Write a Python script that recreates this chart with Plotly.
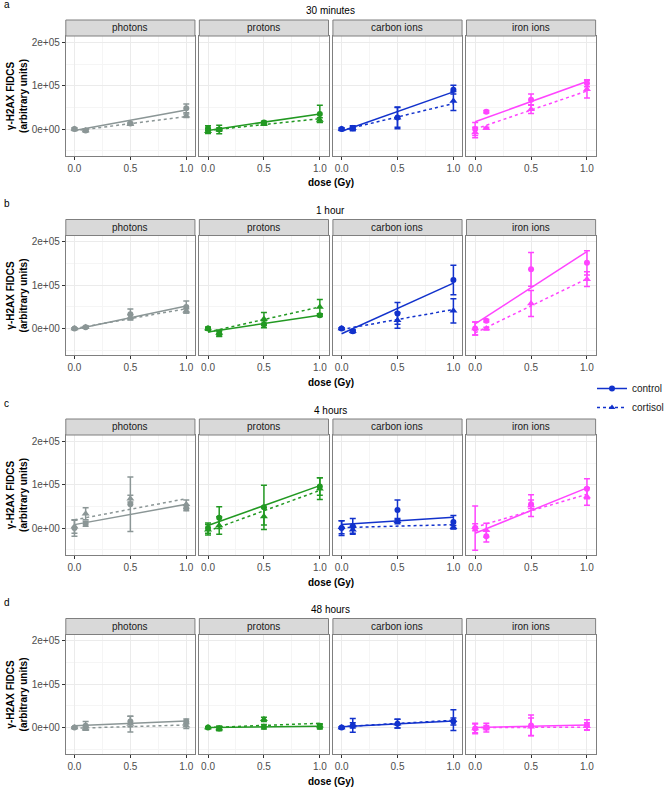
import plotly.graph_objects as go

# ---------------- data (values in units of 1e3, arbitrary units) ----------------
times = ["30 minutes", "1 hour", "4 hours", "48 hours"]
panel_tags = ["a", "b", "c", "d"]
radiations = ["photons", "protons", "carbon ions", "iron ions"]
doses = [0.0, 0.1, 0.5, 1.0]
groups = ["control", "cortisol"]
rad_colors = ["#8B9696", "#229922", "#1232CC", "#FF44FF"]
y_tickvals = [0, 100000, 200000]
y_ticktext = ["0e+00", "1e+05", "2e+05"]
x_tickvals = [0, 0.5, 1.0]
x_ticktext = ["0.0", "0.5", "1.0"]

# per time point: list over radiations of 4 dose values
control_30min = [[0, -3, 13, 48], [2, -1, 15, 35], [0, 2, 27, 91], [0, 40, 68, 106]]
control_30min_err = [[3, 4, 2, 10], [6, 4, 3, 20], [3, 6, 23, 10], [15, 3, 13, 8]]
cortisol_30min = [[0, -3, 11, 31], [-5, -1, 12, 21], [0, 2, 26, 65], [-8, 2, 46, 92]]
cortisol_30min_err = [[2, 2, 2, 4], [5, 10, 3, 5], [2, 4, 25, 22], [12, 2, 10, 20]]

control_1h = [[0, 3, 33, 50], [0, -12, 10, 31], [0, -6, 35, 112], [0, 18, 137, 152]]
control_1h_err = [[2, 2, 12, 14], [3, 6, 8, 3], [2, 3, 25, 34], [15, 3, 39, 28]]
cortisol_1h = [[0, 3, 26, 41], [0, -10, 22, 50], [0, -6, 19, 41], [0, 0, 58, 114]]
cortisol_1h_err = [[2, 2, 6, 5], [3, 7, 15, 17], [2, 3, 18, 28], [15, 3, 30, 17]]

control_4h = [[0, 10, 55, 46], [0, 24, 48, 96], [0, 4, 42, 14], [0, -19, 55, 91]]
control_4h_err = [[19, 6, 63, 6], [12, 25, 51, 20], [17, 18, 23, 15], [51, 13, 10, 23]]
cortisol_4h = [[3, 33, 68, 55], [-4, 6, 27, 91], [2, -4, 16, 2], [2, -5, 52, 73]]
cortisol_4h_err = [[15, 14, 8, 10], [12, 20, 20, 25], [15, 8, 6, 4], [8, 16, 25, 20]]

control_48h = [[0, 4, 14, 14], [0, -2, 2, 2], [0, 5, 9, 14], [-2, 0, 5, 6]]
control_48h_err = [[2, 10, 12, 6], [2, 5, 5, 5], [2, 6, 10, 8], [12, 10, 24, 12]]
cortisol_48h = [[0, -2, 8, 4], [0, -2, 19, 4], [0, 5, 9, 17], [-2, 0, 2, 3]]
cortisol_48h_err = [[2, 4, 18, 6], [2, 5, 5, 5], [2, 16, 10, 24], [10, 5, 20, 8]]

# linear fit lines (intercept, slope) per radiation
control_fit_30min = [(-3, 47), (-3, 38), (-5, 91), (17, 93)]
cortisol_fit_30min = [(-4, 33), (-3, 27), (-3, 62), (0, 88)]
control_fit_1h = [(-2, 54), (-8, 39), (-12, 117), (11, 167)]
cortisol_fit_1h = [(0, 46), (-8, 58), (-2, 46), (-10, 125)]
control_fit_4h = [(8, 47), (6, 92), (8, 17), (-12, 105)]
cortisol_fit_4h = [(19, 49), (-7, 94), (1, 7), (2, 76)]
control_fit_48h = [(4, 11), (0, 3), (2, 13), (0, 6)]
cortisol_fit_48h = [(-1.5, 7.5), (0, 10), (2, 15), (0, 1)]

control_means = [control_30min, control_1h, control_4h, control_48h]
control_errs = [control_30min_err, control_1h_err, control_4h_err, control_48h_err]
cortisol_means = [cortisol_30min, cortisol_1h, cortisol_4h, cortisol_48h]
cortisol_errs = [cortisol_30min_err, cortisol_1h_err, cortisol_4h_err, cortisol_48h_err]
control_fits = [control_fit_30min, control_fit_1h, control_fit_4h, control_fit_48h]
cortisol_fits = [cortisol_fit_30min, cortisol_fit_1h, cortisol_fit_4h, cortisol_fit_48h]
SCALE = 1000

# ---------------- layout geometry (pixels) ----------------
W, H = 669, 787
col_x0 = [67, 203, 339, 475]
panel_w = 131.5
row_step = 199.5
strip_top0 = 20
strip_h = 16
panel_h = 119.5
FONT = "Liberation Sans, Arial, sans-serif"
BORDER = "#7F7F7F"
DASH = "3px,3px"


def px_x(x):
    return x / W


def px_y(y):
    return 1 - y / H


fig = go.Figure()
layout = dict(
    width=W, height=H, margin=dict(l=0, r=0, t=0, b=0),
    paper_bgcolor="white", plot_bgcolor="white",
    font=dict(family=FONT, size=10, color="#1A1A1A"),
    showlegend=True,
)
shapes = []
annotations = []

for r in range(4):
    strip_top = strip_top0 + r * row_step
    ptop = strip_top + strip_h
    pbot = ptop + panel_h
    for c in range(4):
        i = r * 4 + c + 1
        xa = "x" if i == 1 else f"x{i}"
        ya = "y" if i == 1 else f"y{i}"
        x0 = col_x0[c]
        x1 = x0 + panel_w
        layout["xaxis" if i == 1 else f"xaxis{i}"] = dict(
            domain=[px_x(x0), px_x(x1)], anchor=ya, range=[-0.0775, 1.0775],
            tickvals=x_tickvals, ticktext=x_ticktext, ticks="outside", ticklen=3,
            tickcolor="#333333", tickfont=dict(size=10, color="#4D4D4D"),
            showgrid=True, gridcolor="#EBEBEB", gridwidth=1,
            minor=dict(tickvals=[0.25, 0.75], showgrid=True, gridcolor="#F5F5F5", gridwidth=0.6),
            showline=True, mirror=True, linecolor=BORDER, linewidth=1,
            zeroline=False, fixedrange=True,
        )
        layout["yaxis" if i == 1 else f"yaxis{i}"] = dict(
            domain=[px_y(pbot), px_y(ptop)], anchor=xa, range=[-61000, 215000],
            tickvals=y_tickvals, ticktext=y_ticktext,
            ticks="outside" if c == 0 else "", ticklen=3, tickcolor="#333333",
            showticklabels=(c == 0), tickfont=dict(size=10, color="#4D4D4D"),
            showgrid=True, gridcolor="#EBEBEB", gridwidth=1,
            minor=dict(tickvals=[-50000, 50000, 150000], showgrid=True, gridcolor="#F5F5F5", gridwidth=0.6),
            showline=True, mirror=True, linecolor=BORDER, linewidth=1,
            zeroline=False, fixedrange=True,
        )
        # strip
        shapes.append(dict(type="rect", xref="paper", yref="paper",
                           x0=px_x(x0), x1=px_x(x1), y0=px_y(ptop), y1=px_y(strip_top),
                           fillcolor="#D9D9D9", line=dict(color=BORDER, width=1), layer="above"))
        annotations.append(dict(text=radiations[c], xref="paper", yref="paper",
                                x=px_x((x0 + x1) / 2), y=px_y(strip_top + strip_h / 2),
                                showarrow=False, xanchor="center", yanchor="middle",
                                font=dict(size=10, color="#1A1A1A")))

        color = rad_colors[c]
        series = [
            ("control", control_means[r][c], control_errs[r][c], control_fits[r][c], "circle", "solid", 6),
            ("cortisol", cortisol_means[r][c], cortisol_errs[r][c], cortisol_fits[r][c], "triangle-up", DASH, 7),
        ]
        for name, means, errs, fit, sym, dash, msize in series:
            b0, b1 = fit
            fig.add_trace(go.Scatter(
                x=[0, 1], y=[(b0 + b1 * d) * SCALE for d in (0, 1)],
                mode="lines", line=dict(color=color, width=1.5, dash=dash),
                xaxis=xa, yaxis=ya, showlegend=False, hoverinfo="skip"))
            fig.add_trace(go.Scatter(
                x=doses, y=[m * SCALE for m in means],
                error_y=dict(type="data", array=[e * SCALE for e in errs], visible=True,
                             color=color, thickness=1.5, width=3),
                mode="markers", marker=dict(symbol=sym, size=msize, color=color),
                xaxis=xa, yaxis=ya, showlegend=False, name=name))

    mid_x = px_x((col_x0[0] + col_x0[3] + panel_w) / 2)
    # row title
    annotations.append(dict(text=times[r], xref="paper", yref="paper", x=mid_x,
                            y=px_y(11 + r * row_step), showarrow=False,
                            xanchor="center", yanchor="middle", font=dict(size=10, color="black")))
    # row tag
    annotations.append(dict(text=panel_tags[r], xref="paper", yref="paper", x=px_x(2),
                            y=px_y(4 + r * row_step), showarrow=False,
                            xanchor="left", yanchor="middle", font=dict(size=10, color="black")))
    # x axis title
    annotations.append(dict(text="<b>dose (Gy)</b>", xref="paper", yref="paper", x=mid_x,
                            y=px_y(183 + r * row_step), showarrow=False,
                            xanchor="center", yanchor="middle", font=dict(size=10, color="black")))
    # y axis title
    annotations.append(dict(text="<b>γ-H2AX FIDCS</b><br><b>(arbitrary units)</b>",
                            xref="paper", yref="paper", x=px_x(17.5),
                            y=px_y((ptop + pbot) / 2), showarrow=False, textangle=-90,
                            xanchor="center", yanchor="middle",
                            font=dict(size=10, color="black")))

# legend entries
for name, sym, dash in [("control", "circle", "solid"), ("cortisol", "triangle-up", DASH)]:
    fig.add_trace(go.Scatter(
        x=[None], y=[None], mode="lines+markers", name=name,
        line=dict(color="#1232CC", width=1.5, dash=dash),
        marker=dict(symbol=sym, size=6, color="#1232CC"),
        xaxis="x", yaxis="y", showlegend=True))

layout["legend"] = dict(x=px_x(603), y=px_y(398), xanchor="left", yanchor="middle",
                        font=dict(size=10, color="#1A1A1A"), bgcolor="rgba(0,0,0,0)",
                        itemwidth=30, tracegroupgap=0)
layout["shapes"] = shapes
layout["annotations"] = annotations
fig.update_layout(**layout)

fig.write_html("out.html", post_script="document.body.style.margin='0';",
               config={"displayModeBar": False})
